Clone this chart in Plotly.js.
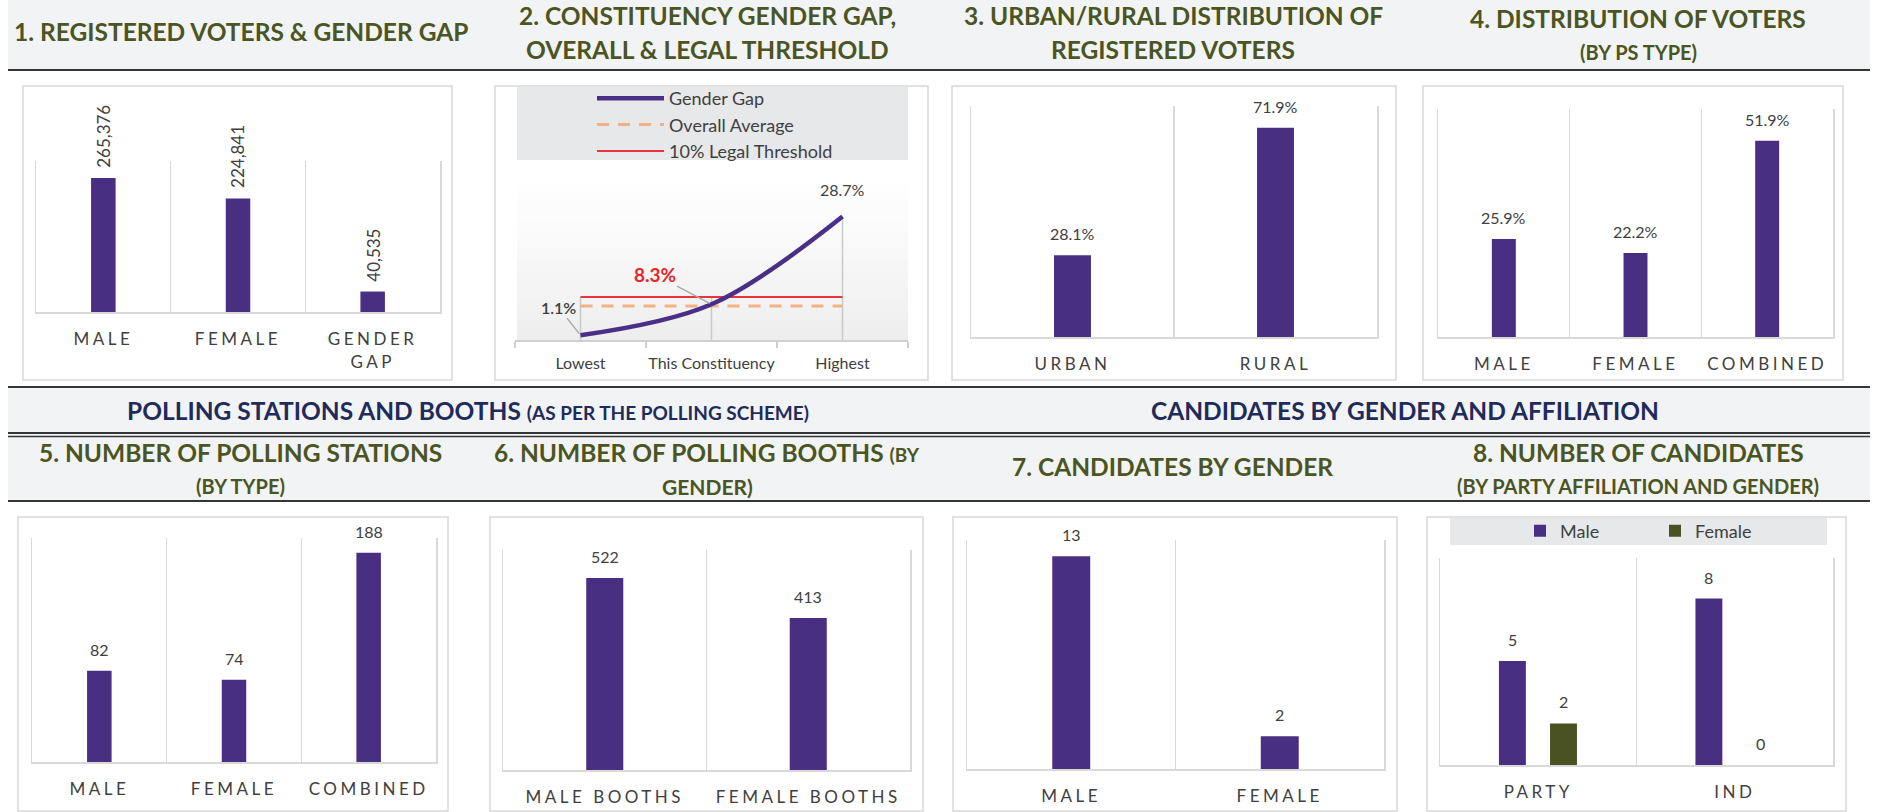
<!DOCTYPE html>
<html><head><meta charset="utf-8">
<script src="https://cdn.plot.ly/plotly-3.0.1.min.js"></script>
<style>
html,body{margin:0;padding:0;background:#fff;}
#chart{width:1886px;height:812px;}
.xtick text,.x3tick text,.x4tick text,.x5tick text,.x6tick text,.x7tick text,.x8tick text{letter-spacing:3.5px;}
</style></head><body><div id="chart"></div>
<script>
// ---------------- DATA ----------------
const p1Categories = ['MALE', 'FEMALE', 'GENDER<br>GAP'];
const p1Values = [265376, 224841, 40535];

const p2Categories = ['Lowest', 'This Constituency', 'Highest'];
const p2GenderGap = [1.1, 8.3, 28.7];
const p2OverallAverage = [7.9, 7.9, 7.9];
const p2LegalThreshold = [10, 10, 10];

const p3Categories = ['URBAN', 'RURAL'];
const p3Values = [28.1, 71.9];

const p4Categories = ['MALE', 'FEMALE', 'COMBINED'];
const p4Values = [25.9, 22.2, 51.9];

const p5Categories = ['MALE', 'FEMALE', 'COMBINED'];
const p5Values = [82, 74, 188];

const p6Categories = ['MALE BOOTHS', 'FEMALE BOOTHS'];
const p6Values = [522, 413];

const p7Categories = ['MALE', 'FEMALE'];
const p7Values = [13, 2];

const p8Categories = ['PARTY', 'IND'];
const p8Male = [5, 8];
const p8Female = [2, 0];

// ---------------- LAYOUT HELPERS ----------------
const W = 1886, H = 812;
const PX = x => x / W;
const PY = y => 1 - y / H;
const PURPLE = '#482f82', OLIVE = '#4a5221', TITLE = '#4b5523', NAVY = '#1f2b5b';
const GRID = '#d9d9d9', TXT = '#404040';
const FONT = 'Lato, "Open Sans", sans-serif';

// plot areas in px: left, top, right, bottom, y max
const plotBoxes = {
  1: [36, 161, 440, 312, 299000],
  2: [515, 160, 908, 340, 41.86],
  3: [971, 106, 1377, 337, 79.4],
  4: [1438, 109, 1833, 337, 60.3],
  5: [32, 538, 436, 762, 201.3],
  6: [503, 550, 910, 770, 598],
  7: [967, 540, 1384, 769, 14.0],
  8: [1440, 558, 1833, 765, 9.95]
};
const ax = i => (i === 1 ? '' : String(i));

const layout = {
  width: W, height: H,
  margin: {l: 0, r: 0, t: 0, b: 0},
  paper_bgcolor: '#ffffff',
  plot_bgcolor: 'rgba(0,0,0,0)',
  barmode: 'group',
  showlegend: true,
  font: {family: FONT, color: TXT},
  legend: {
    x: PX(592), y: PY(80), xanchor: 'left', yanchor: 'top',
    bgcolor: 'rgba(0,0,0,0)', orientation: 'v', itemwidth: 67,
    font: {family: FONT, size: 18, color: TXT}, tracegroupgap: 0
  },
  legend2: {
    x: PX(1520), y: PY(531), xanchor: 'left', yanchor: 'middle',
    bgcolor: 'rgba(0,0,0,0)', orientation: 'h',
    entrywidth: 90, entrywidthmode: 'pixels',
    font: {family: FONT, size: 18, color: TXT}
  },
  shapes: [],
  annotations: []
};

for (let i = 1; i <= 8; i++) {
  const [l, t, r, b, ymax] = plotBoxes[i];
  layout['xaxis' + ax(i)] = {
    domain: [PX(l), PX(r)], anchor: 'y' + ax(i), type: 'category',
    tickson: 'boundaries', showgrid: true, gridcolor: GRID, gridwidth: 1.5,
    showline: true, linecolor: GRID, linewidth: 2, ticks: '',
    ticklabelstandoff: 11, tickangle: 0, zeroline: false, fixedrange: true,
    tickfont: {family: FONT, size: 17, color: TXT}
  };
  layout['yaxis' + ax(i)] = {
    domain: [PY(b), PY(t)], anchor: 'x' + ax(i), range: [0, ymax],
    showgrid: false, zeroline: false, showticklabels: false,
    showline: true, mirror: true, linecolor: GRID, linewidth: 1.5,
    ticks: '', fixedrange: true
  };
}
// panel 2 axes differ
Object.assign(layout.xaxis2, {
  showgrid: false, linecolor: '#cfcfcf', linewidth: 1.5, range: [-0.5, 2.5], autorange: false,
  ticks: 'outside', ticklen: 6, tickcolor: '#cfcfcf', tickwidth: 1.5,
  ticklabelstandoff: 8, tickfont: {family: FONT, size: 16, color: TXT}
});
Object.assign(layout.yaxis2, {showline: false});

// ---------------- SHAPES ----------------
function rect(x0, y0, x1, y1, fill, line, lw) {
  return {type: 'rect', xref: 'paper', yref: 'paper', layer: 'below',
    x0: PX(x0), x1: PX(x1), y0: PY(y1), y1: PY(y0),
    fillcolor: fill, line: {color: line || 'rgba(0,0,0,0)', width: lw || 0}};
}
function hline(x0, x1, y, color, w) {
  return {type: 'line', xref: 'paper', yref: 'paper', layer: 'below',
    x0: PX(x0), x1: PX(x1), y0: PY(y), y1: PY(y), line: {color: color, width: w}};
}
const HEAD = '#f2f3f5';
layout.shapes.push(
  rect(8, 0, 1870, 70, HEAD),
  rect(8, 388, 1870, 501, HEAD),
  hline(8, 1870, 70, '#353535', 2),
  hline(8, 1870, 387, '#353535', 2),
  hline(8, 1870, 433, '#353535', 2),
  hline(8, 1870, 436.5, '#353535', 1.5),
  hline(8, 1870, 501, '#353535', 2)
);
[[23, 86, 452, 380], [495, 86, 928, 380], [952, 86, 1396, 380], [1423, 86, 1843, 380],
 [18, 517, 448, 811], [490, 517, 923, 811], [953, 517, 1397, 811], [1427, 517, 1846, 811]]
  .forEach(b => layout.shapes.push(rect(b[0], b[1], b[2], b[3], '#ffffff', GRID, 1.5)));
// legend boxes
layout.shapes.push(rect(517, 87, 908, 160, '#e7e8ea'));
layout.shapes.push(rect(1450, 518, 1827, 545, '#e7e8ea'));
// soft vertical gradient behind panel 2 plot
const NSTRIPE = 18;
for (let k = 0; k < NSTRIPE; k++) {
  const t = k / (NSTRIPE - 1);
  const g = Math.round(255 - 17 * Math.pow(t, 1.3));
  const y0 = 160 + k * (180 / NSTRIPE), y1 = y0 + 180 / NSTRIPE + 0.5;
  layout.shapes.push(rect(517, y0, 908, y1, `rgb(${g},${g},${g})`));
}

// ---------------- TITLES ----------------
function title(text, cx, cy, size, color) {
  return {xref: 'paper', yref: 'paper', x: PX(cx), y: PY(cy), xanchor: 'center', yanchor: 'middle',
    text: text, showarrow: false, font: {family: FONT, size: size, color: color || TITLE, weight: 700}};
}
const TS = 24.5, SS = 20;
layout.annotations.push(
  title('1. REGISTERED VOTERS &amp; GENDER GAP', 241, 32, TS),
  title('2. CONSTITUENCY GENDER GAP,', 707, 16, TS),
  title('OVERALL &amp; LEGAL THRESHOLD', 707, 50, TS),
  title('3. URBAN/RURAL DISTRIBUTION OF', 1173, 16, TS),
  title('REGISTERED VOTERS', 1173, 50, TS),
  title('4. DISTRIBUTION OF VOTERS', 1638, 18, TS),
  title('(BY PS TYPE)', 1638, 52, SS),
  title('POLLING STATIONS AND BOOTHS <span style="font-size:19px">(AS PER THE POLLING SCHEME)</span>', 468, 410, 24.5, NAVY),
  title('CANDIDATES BY GENDER AND AFFILIATION', 1405, 410, 24.5, NAVY),
  title('5. NUMBER OF POLLING STATIONS', 241, 452, TS),
  title('(BY TYPE)', 241, 486, SS),
  title('6. NUMBER OF POLLING BOOTHS <span style="font-size:19px">(BY</span>', 707, 452, TS),
  title('GENDER)', 707, 486, 21),
  title('7. CANDIDATES BY GENDER', 1172, 466, TS),
  title('8. NUMBER OF CANDIDATES', 1638, 452, TS),
  title('(BY PARTY AFFILIATION AND GENDER)', 1638, 486, SS)
);

// ---------------- VALUE LABELS ----------------
function valueLabels(i, xs, vals, fmt, extra) {
  return xs.map((x, k) => Object.assign({
    xref: 'x' + ax(i), yref: 'y' + ax(i), x: x, y: vals[k], text: fmt(vals[k]),
    showarrow: false, yanchor: 'bottom', yshift: 10,
    font: {family: FONT, size: 16, color: TXT}
  }, extra || {}));
}
const fmtComma = v => v.toLocaleString('en-US');
const fmtPct = v => v.toFixed(1) + '%';
const fmtInt = v => String(v);

layout.annotations.push(
  ...valueLabels(1, p1Categories, p1Values, fmtComma, {textangle: -90, yshift: 8, font: {family: FONT, size: 17, color: TXT}}),
  ...valueLabels(3, p3Categories, p3Values, fmtPct),
  ...valueLabels(4, p4Categories, p4Values, fmtPct),
  ...valueLabels(5, p5Categories, p5Values, fmtInt),
  ...valueLabels(6, p6Categories, p6Values, fmtInt),
  ...valueLabels(7, p7Categories, p7Values, fmtInt)
);
const P8W = 0.137, P8OFF_M = -0.2, P8OFF_F = 0.06;
layout.annotations.push(
  ...valueLabels(8, p8Categories.map((c, k) => k + P8OFF_M + P8W / 2), p8Male, fmtInt),
  ...valueLabels(8, p8Categories.map((c, k) => k + P8OFF_F + P8W / 2), p8Female, fmtInt)
);
// panel 2 labels
layout.annotations.push(
  {xref: 'x2', yref: 'y2', x: p2Categories[0], y: p2GenderGap[0], text: fmtPct(p2GenderGap[0]),
   showarrow: true, arrowhead: 0, arrowwidth: 1.3, arrowcolor: '#a8a8a8', ax: -22, ay: -28, standoff: 2,
   font: {family: FONT, size: 16, color: TXT, weight: 600}},
  {xref: 'x2', yref: 'y2', x: p2Categories[1], y: p2GenderGap[1], text: fmtPct(p2GenderGap[1]),
   showarrow: true, arrowhead: 0, arrowwidth: 1.3, arrowcolor: '#a8a8a8', ax: -57, ay: -30, standoff: 2,
   font: {family: FONT, size: 19, color: '#e8262c', weight: 700}},
  {xref: 'x2', yref: 'y2', x: p2Categories[2], y: p2GenderGap[2], text: fmtPct(p2GenderGap[2]),
   showarrow: false, yanchor: 'bottom', yshift: 16, font: {family: FONT, size: 16, color: TXT}}
);

// ---------------- TRACES ----------------
function barTrace(i, cats, vals) {
  return {type: 'bar', x: cats, y: vals, xaxis: 'x' + ax(i), yaxis: 'y' + ax(i),
    width: 0.182, marker: {color: PURPLE, line: {width: 0}}, showlegend: false, hoverinfo: 'skip'};
}
// drop lines go from the axis up to the highest series value in each category
const dropX = [], dropY = [];
p2Categories.forEach((c, k) => {
  dropX.push(c, c, null);
  dropY.push(0, Math.max(p2GenderGap[k], p2OverallAverage[k], p2LegalThreshold[k]), null);
});

const traces = [
  barTrace(1, p1Categories, p1Values),
  {type: 'scatter', mode: 'lines', x: dropX, y: dropY, xaxis: 'x2', yaxis: 'y2',
   line: {color: '#c8c8c8', width: 1.5}, showlegend: false, hoverinfo: 'skip'},
  {type: 'scatter', mode: 'lines', name: 'Overall Average', x: p2Categories, y: p2OverallAverage,
   xaxis: 'x2', yaxis: 'y2', line: {color: '#f4b183', width: 3, dash: '12px,9px'}, legendrank: 2, legend: 'legend'},
  {type: 'scatter', mode: 'lines', name: '10% Legal Threshold', x: p2Categories, y: p2LegalThreshold,
   xaxis: 'x2', yaxis: 'y2', line: {color: '#e8343a', width: 2}, legendrank: 3, legend: 'legend'},
  {type: 'scatter', mode: 'lines', name: 'Gender Gap', x: p2Categories, y: p2GenderGap,
   xaxis: 'x2', yaxis: 'y2', line: {color: '#4a2f86', width: 4.5, shape: 'spline', smoothing: 1}, legendrank: 1, legend: 'legend'},
  barTrace(3, p3Categories, p3Values),
  barTrace(4, p4Categories, p4Values),
  barTrace(5, p5Categories, p5Values),
  barTrace(6, p6Categories, p6Values),
  barTrace(7, p7Categories, p7Values),
  {type: 'bar', name: 'Male', x: p8Categories, y: p8Male, xaxis: 'x8', yaxis: 'y8',
   width: P8W, offset: P8OFF_M, marker: {color: PURPLE}, legend: 'legend2', legendrank: 1, hoverinfo: 'skip'},
  {type: 'bar', name: 'Female', x: p8Categories, y: p8Female, xaxis: 'x8', yaxis: 'y8',
   width: P8W, offset: P8OFF_F, marker: {color: OLIVE}, legend: 'legend2', legendrank: 2, hoverinfo: 'skip'}
];

Plotly.newPlot('chart', traces, layout, {staticPlot: true});
</script></body></html>
